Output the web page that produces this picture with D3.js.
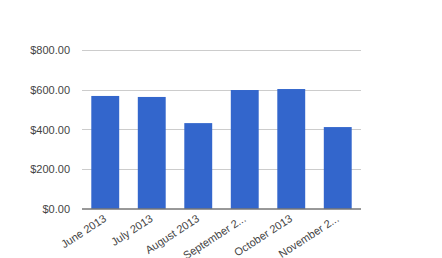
<!DOCTYPE html>
<meta charset="utf-8">
<script src="https://d3js.org/d3.v7.min.js"></script>
<style>
  body { margin: 0; background: #fff; }
  text { font-family: Arial, "Liberation Sans", sans-serif; font-size: 11px; fill: #444; }
</style>
<body></body>
<script>

var months = ["June 2013", "July 2013", "August 2013", "September 2013", "October 2013", "November 2013"];
var monthLabels = ["June 2013", "July 2013", "August 2013", "September 2...", "October 2013", "November 2..."];
var amounts = [568, 563, 431, 598, 603, 411];
var yTicks = [0, 200, 400, 600, 800];

var margin = {left: 82, right: 81, top: 50, bottom: 49.5};
var width = 442 - margin.left - margin.right;
var height = 258 - margin.top - margin.bottom;

var svg = d3.select("body").append("svg")
  .attr("width", 442)
  .attr("height", 258)
  .append("g")
  .attr("transform", `translate(${margin.left},${margin.top})`);

var xScale = d3.scaleBand()
  .domain(months)
  .range([0, width])
  .paddingInner(0.4)
  .paddingOuter(0.2);

var yScale = d3.scaleLinear()
  .domain([0, 800])
  .range([height, 0]);

var fmt = d3.format("$,.2f");

// gridlines
svg.selectAll(".grid")
  .data(yTicks.filter(d => d > 0))
  .enter().append("line")
  .attr("x1", 0)
  .attr("x2", width)
  .attr("y1", d => Math.round(yScale(d)) + 0.5)
  .attr("y2", d => Math.round(yScale(d)) + 0.5)
  .style("stroke", "#cccccc");

var yAxis = d3.axisLeft(yScale).tickValues(yTicks).tickFormat(fmt).tickSize(0).tickPadding(12);
var yAxisGroup = svg.append("g").call(yAxis);
yAxisGroup.select(".domain").remove();
yAxisGroup.selectAll("text").style("fill", "#444").attr("dy", "0.35em");

svg.selectAll(".bar")
  .data(amounts)
  .enter().append("rect")
  .attr("class", "bar")
  .attr("x", (d, i) => xScale(months[i]))
  .attr("y", d => yScale(d))
  .attr("width", xScale.bandwidth())
  .attr("height", d => height - yScale(d))
  .style("fill", "#3366cc");

var xAxis = d3.axisBottom(xScale).tickSize(0).tickFormat((d, i) => monthLabels[i]);
var xAxisGroup = svg.append("g")
  .attr("transform", `translate(0,${height})`)
  .call(xAxis);
xAxisGroup.select(".domain")
  .attr("d", `M0,0.5H${width}`)
  .style("stroke", "#333");
xAxisGroup.selectAll("text")
  .style("fill", "#444")
  .style("text-anchor", "end")
  .attr("dy", null)
  .attr("y", 0)
  .attr("transform", "translate(2,12) rotate(-33)");

</script>
